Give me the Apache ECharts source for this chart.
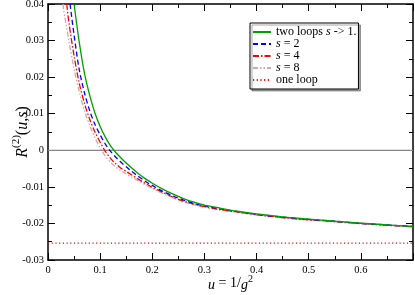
<!DOCTYPE html>
<html>
<head>
<meta charset="utf-8">
<script src="https://cdn.jsdelivr.net/npm/echarts@6/dist/echarts.min.js"></script>
<style>html,body{margin:0;padding:0;background:#fff}#c{width:415px;height:295px}</style>
</head>
<body>
<div id="c"></div>
<script>
// data
const uGreen = [0.05,0.06,0.07,0.08,0.09,0.10,0.11,0.12,0.13,0.14,0.15,0.16,0.17,0.18,0.19,0.20,0.22,0.24,0.26,0.28,0.30,0.33,0.36,0.40,0.45,0.50,0.55,0.60,0.65,0.70];
const rGreen = [0.0400,0.0295,0.0210,0.0150,0.0102,0.0065,0.0036,0.0012,-0.0006,-0.0021,-0.0035,-0.0048,-0.0060,-0.0071,-0.0081,-0.0090,-0.0106,-0.0120,-0.0132,-0.0142,-0.0150,-0.0158,-0.0166,-0.0174,-0.0182,-0.0188,-0.0194,-0.0199,-0.0204,-0.0208];
const uS2 = [0.0423,0.05,0.06,0.07,0.08,0.09,0.10,0.11,0.12,0.13,0.14,0.15,0.16,0.17,0.18,0.19,0.20,0.22,0.24,0.26,0.28,0.30,0.33,0.36,0.40,0.45,0.50,0.55,0.60,0.65,0.70];
const rS2 = [0.0400,0.0315,0.0220,0.0157,0.0108,0.0071,0.0042,0.0017,-0.0003,-0.0019,-0.0033,-0.0045,-0.0057,-0.0068,-0.0078,-0.0088,-0.0096,-0.0112,-0.0125,-0.0136,-0.0145,-0.0152,-0.0160,-0.0167,-0.0175,-0.0183,-0.0189,-0.0194,-0.0200,-0.0204,-0.0208];
const uS4 = [0.036,0.04,0.05,0.06,0.07,0.08,0.09,0.10,0.11,0.12,0.13,0.14,0.15,0.16,0.17,0.18,0.19,0.20,0.22,0.24,0.26,0.28,0.30,0.33,0.36,0.40,0.45,0.50,0.55,0.60,0.65,0.70];
const rS4 = [0.0400,0.0350,0.0258,0.0183,0.0128,0.0085,0.0050,0.0022,-0.0003,-0.0022,-0.0037,-0.0049,-0.0058,-0.0067,-0.0076,-0.0085,-0.0093,-0.0101,-0.0115,-0.0128,-0.0139,-0.0147,-0.0154,-0.0162,-0.0168,-0.0176,-0.0184,-0.0190,-0.0195,-0.0200,-0.0205,-0.0209];
const uS8 = [0.0288,0.03,0.04,0.05,0.06,0.07,0.08,0.09,0.10,0.11,0.12,0.13,0.14,0.15,0.16,0.17,0.18,0.19,0.20,0.22,0.24,0.26,0.28,0.30,0.33,0.36,0.40,0.45,0.50,0.55,0.60,0.65,0.70];
const rS8 = [0.0400,0.0385,0.0300,0.0222,0.0160,0.0108,0.0068,0.0035,0.0006,-0.0016,-0.0033,-0.0046,-0.0056,-0.0065,-0.0073,-0.0081,-0.0089,-0.0097,-0.0104,-0.0118,-0.0130,-0.0141,-0.0149,-0.0156,-0.0163,-0.0169,-0.0177,-0.0185,-0.0191,-0.0196,-0.0201,-0.0205,-0.0210];
const uOneLoop = [0, 0.7];
const rOneLoop = [-0.0254, -0.0254];
const uZero = [0, 0.7];
const rZero = [0, 0];
const xTicks = ['0','0.1','0.2','0.3','0.4','0.5','0.6'];
const yTicks = ['-0.03','-0.02','-0.01','0','0.01','0.02','0.03','0.04'];
const legendNames = ['two loops s -> 1.', 's = 2', 's = 4', 's = 8', 'one loop'];

const zip = (a, b) => a.map((v, i) => [v, b[i]]);
const serif = 'Liberation Serif';
const chart = echarts.init(document.getElementById('c'));

const axisBase = {
  axisLine: {show: true, onZero: false, lineStyle: {color: '#000', width: 1.5}},
  axisTick: {show: true, inside: true, length: 7, lineStyle: {color: '#000', width: 1}},
  minorTick: {show: true, splitNumber: 2, length: 4, lineStyle: {color: '#000', width: 1}},
  splitLine: {show: false}
};
const lineSeries = (name, x, y, color, type, z) => ({
  name, type: 'line', data: zip(x, y), showSymbol: false, symbol: 'none', smooth: 0.3,
  lineStyle: {color, width: 1.3, type}, itemStyle: {color}, clip: true, z: z || 2, animation: false
});

chart.setOption({
  animation: false,
  grid: {left: 48, right: 2, top: 4, bottom: 35, containLabel: false, outerBoundsMode: 'none'},
  xAxis: [
    Object.assign({type: 'value', min: 0, max: 0.7, interval: 0.1, position: 'bottom',
      axisLabel: {fontFamily: serif, fontSize: 10.5, color: '#000', margin: 5,
        formatter: v => { const i = Math.round(v * 10); return i < xTicks.length ? xTicks[i] : ''; }},
      name: '{i|u} = 1/{i|g}{sup|2}', nameLocation: 'middle', nameGap: 14, nameMoveOverlap: false,
      nameTextStyle: {fontFamily: serif, fontSize: 14, color: '#000',
        rich: {i: {fontFamily: serif, fontStyle: 'italic', fontSize: 14, verticalAlign: 'bottom', lineHeight: 18},
               sup: {fontFamily: serif, fontSize: 10, verticalAlign: 'top', lineHeight: 18}}}
    }, axisBase),
    Object.assign({type: 'value', min: 0, max: 0.7, interval: 0.1, position: 'top', axisLabel: {show: false}}, axisBase)
  ],
  yAxis: [
    Object.assign({type: 'value', min: -0.03, max: 0.04, interval: 0.01, position: 'left',
      axisLabel: {fontFamily: serif, fontSize: 10.5, color: '#000', margin: 4,
        formatter: v => yTicks[Math.round(v * 100) + 3]},
      name: '{i|R}{sup|(2)}{n|(}{i|u}{n|,}{i|s}{n|)}', nameLocation: 'middle', nameGap: 17, nameRotate: 90, nameMoveOverlap: false,
      nameTextStyle: {fontFamily: serif, fontSize: 16, color: '#000',
        rich: {i: {fontFamily: serif, fontStyle: 'italic', fontSize: 16, verticalAlign: 'bottom', lineHeight: 20},
               n: {fontFamily: serif, fontSize: 16, verticalAlign: 'bottom', lineHeight: 20},
               sup: {fontFamily: serif, fontSize: 11, verticalAlign: 'top', lineHeight: 20}}}
    }, axisBase),
    Object.assign({type: 'value', min: -0.03, max: 0.04, interval: 0.01, position: 'right', axisLabel: {show: false}}, axisBase)
  ],
  legend: {
    left: 250, top: 23, orient: 'vertical', itemWidth: 18, itemHeight: 12, itemGap: 0,
    padding: [3, 2, 3, 2], borderColor: '#000', borderWidth: 1, backgroundColor: '#fff',
    shadowColor: 'rgba(0,0,0,0.35)', shadowOffsetX: 2, shadowOffsetY: 2, shadowBlur: 0,
    itemStyle: {opacity: 0},
    data: legendNames,
    formatter: n => n.replace(/\bs\b/, '{i|s}'),
    textStyle: {fontFamily: serif, fontSize: 12, color: '#000',
      rich: {i: {fontFamily: serif, fontStyle: 'italic', fontSize: 12}}}
  },
  series: [
    Object.assign(lineSeries('zero', uZero, rZero, '#888888', 'solid', 1), {smooth: false}),
    lineSeries(legendNames[0], uGreen, rGreen, '#00a000', 'solid', 6),
    lineSeries(legendNames[1], uS2, rS2, '#0000ff', [5, 3], 5),
    lineSeries(legendNames[2], uS4, rS4, '#ff0000', [6, 2, 1.5, 2], 4),
    lineSeries(legendNames[3], uS8, rS8, '#d8a4a4', [5, 2, 1.5, 2, 1.5, 2], 3),
    Object.assign(lineSeries(legendNames[4], uOneLoop, rOneLoop, '#ff0000', [1.2, 2.5], 3), {smooth: false})
  ]
});
</script>
</body>
</html>
